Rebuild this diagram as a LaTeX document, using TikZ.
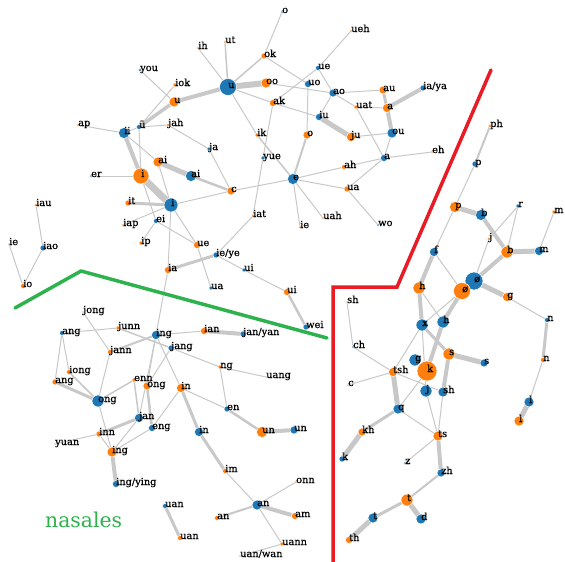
\documentclass[tikz,border=0pt]{standalone}
\usepackage{fontspec}
\setmainfont{DejaVu Serif}
\newfontfamily\labfont{DejaVu Serif}[FakeBold=0.6]
\pgfdeclarelayer{edges}
\pgfsetlayers{edges,main}
\definecolor{cB}{RGB}{31,119,180}
\definecolor{cO}{RGB}{255,127,14}
\definecolor{edgec}{RGB}{200,200,200}
\definecolor{grn}{RGB}{46,178,78}
\definecolor{rd}{RGB}{232,28,36}
\tikzset{
  dot/.style={circle, inner sep=0pt, draw=white, line width=0.5pt},
  edge/.style={draw=edgec},
  lab/.style={anchor=base west, inner sep=0pt, text=black, font=\labfont\fontsize{9.8}{10}\selectfont},
}
\begin{document}
\begin{tikzpicture}[x=1pt,y=-1pt]
\useasboundingbox (0,0) rectangle (565,562);
\foreach \id/\x/\y/\c/\r/\t in {
you/140/70/cB/1.8/you, iok/175/85/cO/2/iok, uO/174/102/cO/5/u, ap/78/125/cO/1.5/ap,
uum/139/127/cB/2.5/ü, jah/168/125/cO/1.8/jah, ii/124/133/cB/5.5/ii, aiO/158/162/cO/5/ai,
aiB/191/176/cB/5.5/ai, er/91/176/cB/1.5/er, iO/141/176/cO/8/i, it/128/203/cO/3/it,
iB/171/205/cB/7/i, iap/123/225/cO/1.5/iap, ei/156/221/cB/2.5/ei, ip/141/243/cO/2/ip,
ueO/197/245/cO/3.5/ue, ieye/216/255/cB/3/{ie/ye}, uiB/244/270/cB/2/ui, iaO/168/270/cO/3.5/ia,
uaB/211/288/cB/2/ua, uiO/287/292/cO/3.5/ui, wei/306/327/cB/3/wei, iat/253/216/cO/1.8/iat,
ja/209/149/cB/2/ja, c/231/191/cO/4/c, uB/228/87/cB/8.5/u, oo/266/83/cO/5/oo,
ok/264/56/cO/3/ok, ut/225/42/cO/1.5/ut, ih/198/48/cO/1.5/ih, oa/282/12/cB/1.5/o,
ueh/351/31/cO/1.5/ueh, ueB/318/68/cB/2.5/ue, uo/308/84/cB/3.5/uo, ak/273/103/cO/3.5/ak,
ao/333/93/cB/4/ao, uat/356/107/cO/2/uat, iu/319/117/cB/3.5/iu, ju/351/137/cO/4.5/ju,
oO/307/135/cO/4/o, ik/257/135/cO/2/ik, yue/263/158/cB/2/yue, e/293/179/cB/5.5/e,
ah/344/167/cO/2.5/ah, uaO/347/189/cO/3/ua, uah/323/218/cO/1.5/uah, ieO/300/227/cO/1.5/ie,
wo/378/225/cB/1.5/wo, au/383/90/cO/4/au, iaya/423/88/cB/3/{ia/ya}, aO/387/108/cO/4.5/a,
ou/392/133/cB/5/ou, aB/384/158/cB/3.5/a, eh/432/152/cO/1.5/eh,
iau/36/205/cO/1.8/iau, iao/43/248/cB/3/iao, ieL/9/244/cB/1.2/ie, io/23/286/cO/2.5/io,
jong/83/312/cB/1.2/jong, junn/118/328/cO/2/junn, angB/62/333/cB/2.5/ang, ingB/156/335/cB/4.5/ing,
jang/171/348/cB/3/jang, jann/110/352/cO/2.5/jann, iong/69/372/cO/2.5/iong, angO/55/382/cO/3/ang,
enn/134/380/cO/2/enn, ongO/147/386/cO/4/ong, inO/181/388/cO/4.5/in, ongB/98/401/cB/6/ong,
jan/139/418/cB/4.5/jan, eng/152/428/cB/3.5/eng, inn/99/434/cO/3/inn, inB/199/432/cB/4.5/in,
ian/204/331/cO/3.5/ian, janyan/243/334/cB/3/{jan/yan}, ng/220/367/cO/2/ng, uang/266/377/cB/1.2/uang,
en/227/409/cB/3/en, unO/262/432/cO/5.5/un, unB/294/430/cB/4/un, yuan/55/444/cB/1.2/yuan,
ingO/112/452/cO/5/ing, ingying/116/484/cB/3.5/{ing/ying}, uanB/165/506/cB/2.5/uan, uanO/180/538/cO/2.5/uan,
im/225/471/cO/2.5/im, onn/296/482/cO/1.5/onn, anB/257/505/cB/5/an, anO/217/518/cO/2.5/an,
am/295/516/cO/3.5/am, uann/282/544/cO/2/uann, uanwan/240/556/cB/1.2/{uan/wan},
ph/490/126/cO/1.8/ph, pB/475/164/cB/3/p, pO/455/207/cO/5.5/p, bB/481/215/cB/5.5/b,
r/518/206/cB/2/r, mO/554/212/cO/2/m, jO/489/239/cO/1.8/j, f/434/252/cB/4.5/f,
bO/507/252/cO/6/b, mB/539/251/cB/4.5/m, oslB/474/281/cB/9/ø, oslO/462/291/cO/8.5/ø,
hO/419/288/cO/6/h, gO/507/297/cO/4.5/g, shO/347/302/cO/1.2/sh, x/422/325/cB/6/x,
hB/443/322/cB/6/h, nB/547/320/cB/2.5/n, ch/353/347/cB/1.5/ch, sO/449/354/cO/6/s,
sB/484/363/cB/4/s, gB/415/360/cB/6/g, kO/427/371/cO/10/k, tsh/393/372/cO/4.5/tsh,
cc/348/385/cB/1.2/c, jB/426/391/cB/6/j, shB/443/392/cB/5/sh, nO/543/360/cO/2.5/n,
lB/529/402/cB/5/l, lO/519/421/cO/5/l, q/398/409/cB/5/q, kh/362/432/cO/4/kh,
ts/438/436/cO/5/ts, kB/342/459/cB/3/k, z/405/463/cB/1.5/z, zh/441/473/cB/4/zh,
tO/407/500/cO/6/t, d/421/519/cB/5/d, tB/373/518/cB/5/t, th/349/540/cO/3.5/th}
{
  \node[dot, fill=\c, minimum size=2*\r] (\id) at (\x,\y) {};
  \node[lab] (l\id) at ([yshift=-1pt]\id.center) {\t};
}
\begin{pgfonlayer}{edges}
\foreach \a/\b/\w in {
you/uO/1, iok/uum/1, uO/uum/3.5, uO/uB/4, ap/ii/1, ii/uum/1, uum/jah/1, ii/iO/4,
ii/aiO/1, uum/iO/1, er/iO/1, iO/iB/7, iO/ei/1, aiO/aiB/5, aiO/iB/1, aiB/c/2.5,
iB/c/1, it/iB/3, iap/iB/1, ei/ip/1, ei/ueO/1, iB/ueO/1, iB/iaO/1, ueO/uaB/1,
iaO/ieye/3, ieye/iat/1, ieye/uiB/1, uiB/uiO/1, uiO/wei/2.5, iat/yue/1, yue/ak/1,
jah/ja/1, ja/c/1, c/e/1, uB/ik/1, ik/e/1.5, uB/oo/6, uB/ok/1.5, uB/ut/1.5, uB/ih/1,
oa/ok/1, uB/ak/1, ok/uo/1, oo/ao/1, ak/ueB/1, ak/iu/1, ueB/ueh/1, ueB/ao/1,
uo/oO/1, oO/e/2, iu/ju/5, iu/ao/1, ao/au/1, ao/uat/1, uat/aO/1, uat/aB/1,
aO/au/3, aO/iaya/4, aO/ou/4, ou/aB/1, ju/ou/1, aB/eh/1, aB/ah/1, aB/uaO/1,
e/ah/1, e/uaO/1, e/uah/1, e/ieO/1, uaO/wo/1,
iau/iao/1, iao/io/1, ieL/io/1, iaO/ingB/1,
jong/jann/1, jann/ongB/1, jann/ingB/2, angB/junn/1, angB/angO/1, angB/iong/1,
iong/ongB/1.5, angO/ongB/3, junn/jang/1.5, ingB/ian/1, ingB/jan/1, ingB/ongO/1,
ingB/inO/1, jang/ng/1, jang/ongO/1, ongB/enn/1.5, enn/jan/1.5, ongO/eng/2.5,
inO/eng/1, inO/inB/3, inO/en/1, ng/uang/1, ng/en/1, en/unO/2.5, unO/unB/4,
ian/janyan/4, inB/im/3, im/anB/1, anB/anO/2, anB/am/4, anB/onn/1, anB/uann/1,
uann/uanwan/1, uanB/uanO/3, jan/inn/3, inn/yuan/1, inn/ingO/1, eng/ingO/1,
jan/ingO/1, ongB/ingO/1, ingO/ingying/4,
ph/pB/2, pB/pO/1, pO/f/1, pO/bB/5, bB/bO/4, r/jO/1, r/bO/1, jO/oslB/1,
mO/mB/1, bO/mB/5, bO/oslB/4, oslB/oslO/5, oslB/gO/5, gO/nB/1, nB/nO/3, nO/lB/1,
lB/lO/5, f/hO/4, f/oslO/1, hO/x/4, hO/hB/1, oslO/hB/4, hB/kO/4, oslO/x/1,
x/sO/3, sO/sB/5, sO/shB/4, shO/ch/1, ch/tsh/1, cc/tsh/1, tsh/q/5, tsh/shB/1,
x/tsh/1, x/jB/1, q/kO/1, q/kh/3, kh/kB/5, q/ts/1, jB/ts/1, shB/ts/1, ts/zh/4,
z/ts/1, zh/tO/2, tO/d/5, tO/tB/3, tB/th/5}
{
  \draw[edge, line width=\w] (\a.center) -- (\b.center);
}
\end{pgfonlayer}
% region boundaries
\coordinate (g1) at (15,308);
\coordinate (g2) at (81,271);
\coordinate (g3) at (327,338);
\draw[grn, line width=3.5pt, line join=round, line cap=round] (g1) -- (g2) -- (g3);
\coordinate (r1) at (491,70);
\coordinate (r2) at (397,287);
\coordinate (r3) at (333,287);
\coordinate (r4) at (333,562);
\draw[rd, line width=3.5pt, line join=miter, line cap=round] (r1) -- (r2) -- (r3) -- (r4);
\node[anchor=base west, inner sep=0pt, text=grn, font=\fontsize{20.4}{22}\selectfont] (nas) at (45,527) {nasales};
\end{tikzpicture}
\end{document}
